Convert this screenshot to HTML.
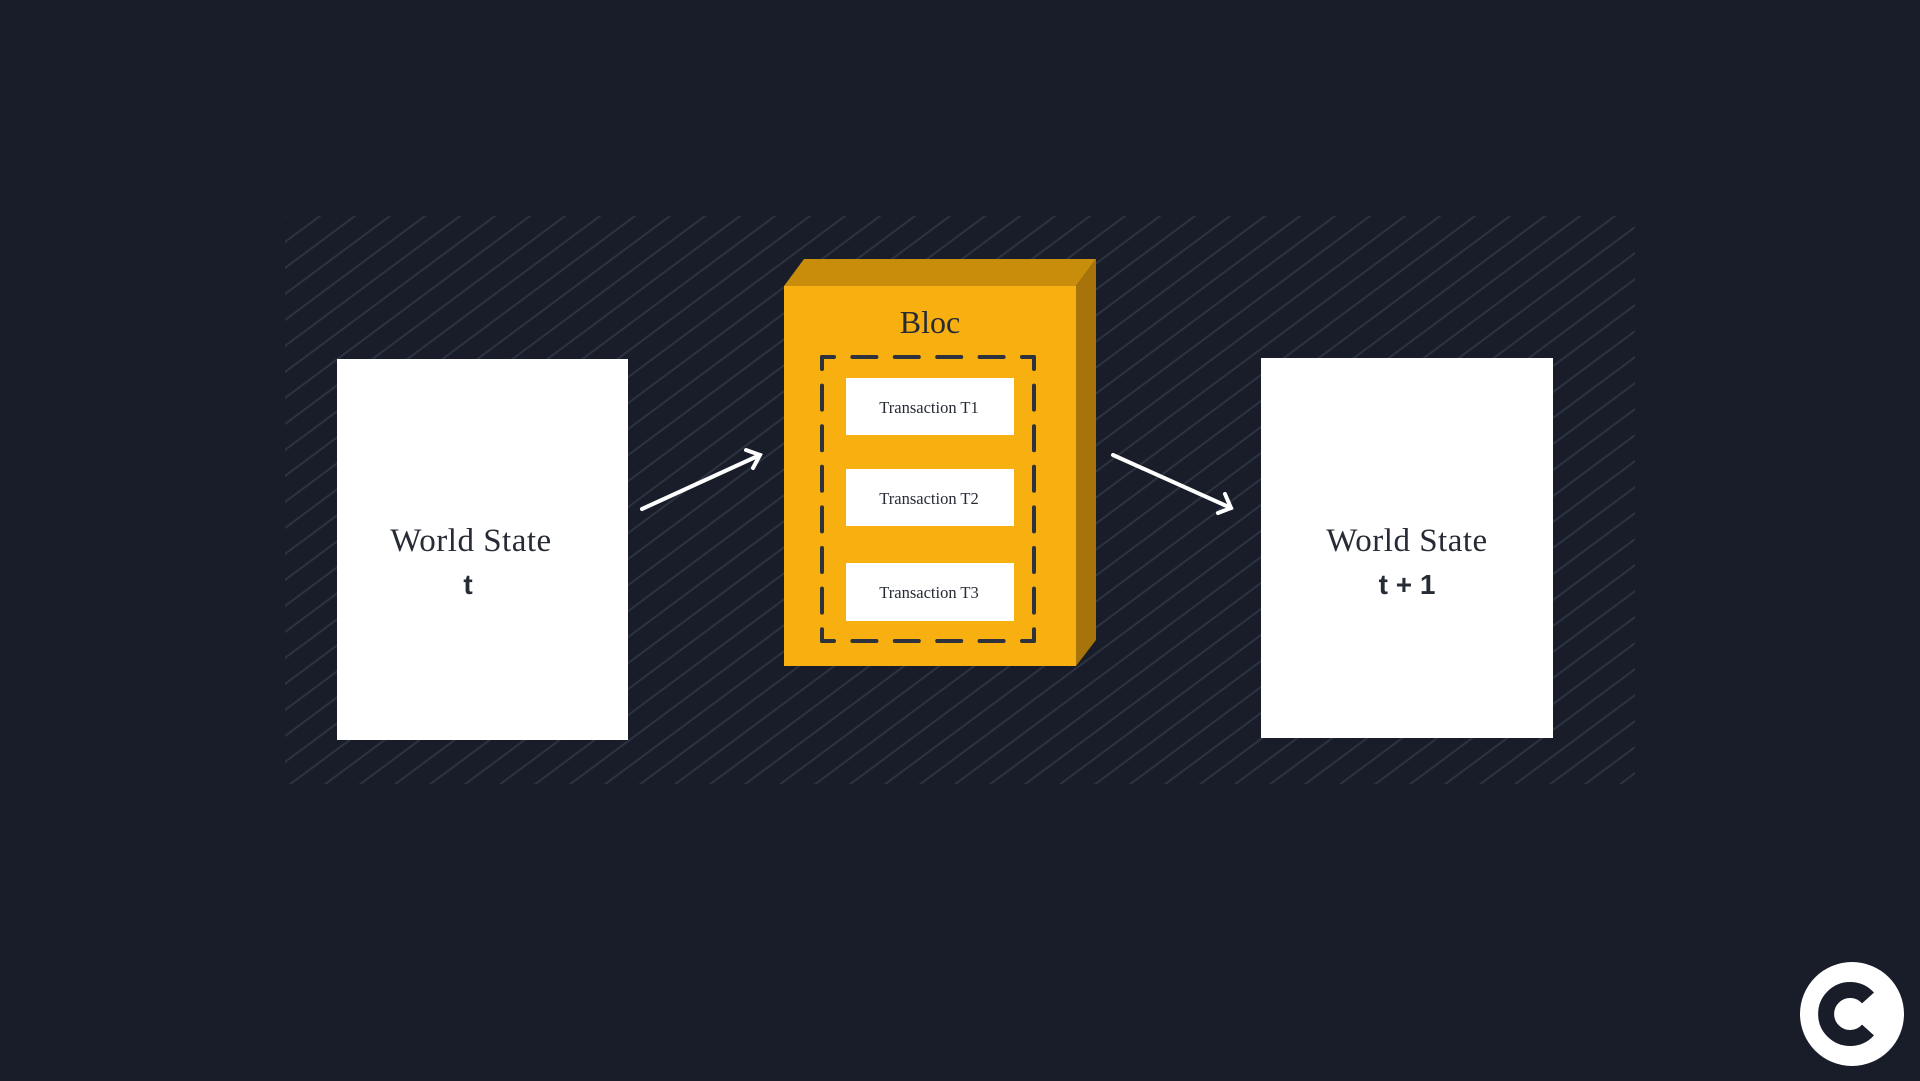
<!DOCTYPE html>
<html><head><meta charset="utf-8"><style>
html,body{margin:0;padding:0;background:#181d29;width:1920px;height:1081px;overflow:hidden}
svg{display:block}
</style></head><body>
<svg width="1920" height="1081" viewBox="0 0 1920 1081" xmlns="http://www.w3.org/2000/svg">
<defs>
<pattern id="h" patternUnits="userSpaceOnUse" x="285" y="216" width="35" height="26">
<line x1="-35" y1="52" x2="70" y2="-26" stroke="#2c3240" stroke-width="2"/>
<line x1="-70" y1="52" x2="35" y2="-26" stroke="#2c3240" stroke-width="2"/>
<line x1="0" y1="52" x2="105" y2="-26" stroke="#2c3240" stroke-width="2"/>
</pattern>
</defs>
<rect x="285" y="216" width="1350" height="568" fill="url(#h)"/>
<rect x="337" y="359" width="291" height="381" fill="#fff"/>
<rect x="1261" y="358" width="292" height="380" fill="#fff"/>
<g font-family="Liberation Serif, serif" fill="#262b35" text-anchor="middle">
<text x="471" y="551" font-size="33" letter-spacing="0.5">World State</text>
<text x="1407" y="551" font-size="33" letter-spacing="0.5">World State</text>
</g>
<g font-family="Liberation Sans, sans-serif" font-weight="bold" fill="#262b35" text-anchor="middle" font-size="28">
<text x="468" y="594">t</text>
<text x="1407" y="594">t + 1</text>
</g>
<g stroke="#fff" stroke-width="4" fill="none" stroke-linecap="round">
<line x1="642" y1="509" x2="760" y2="455"/>
<polyline points="746,450 760,455 753,468"/>
<line x1="1113" y1="455" x2="1231" y2="508"/>
<polyline points="1218,513 1231,508 1225,494"/>
</g>
<polygon points="784,286 804,259 1096,259 1076,286" fill="#c98d0c"/>
<polygon points="1076,286 1096,259 1096,640 1076,666" fill="#a6740a"/>
<rect x="784" y="286" width="292" height="380" fill="#f8af10"/>
<text x="930" y="333" font-family="Liberation Serif, serif" font-size="32" fill="#262b35" text-anchor="middle">Bloc</text>
<g fill="none" stroke="#2d323d" stroke-width="4" stroke-linecap="round">
<path d="M822,357 H1034" stroke-dasharray="12 18.4 24 18.4 24 18.4 24 18.4 24 18.4 12"/>
<path d="M822,641 H1034" stroke-dasharray="12 18.4 24 18.4 24 18.4 24 18.4 24 18.4 12"/>
<path d="M822,357 V641" stroke-dasharray="12 16.6 24 16.6 24 16.6 24 16.6 24 16.6 24 16.6 24 16.6 12"/>
<path d="M1034,357 V641" stroke-dasharray="12 16.6 24 16.6 24 16.6 24 16.6 24 16.6 24 16.6 24 16.6 12"/>
</g>
<g fill="#fff">
<rect x="846" y="378" width="168" height="57"/>
<rect x="846" y="469" width="168" height="57"/>
<rect x="846" y="563" width="168" height="58"/>
</g>
<g font-family="Liberation Serif, serif" font-size="16.5" fill="#262b35" text-anchor="middle">
<text x="929" y="413">Transaction T1</text>
<text x="929" y="504">Transaction T2</text>
<text x="929" y="598">Transaction T3</text>
</g>
<circle cx="1852" cy="1014" r="52" fill="#fff"/>
<path d="M1868,998 A24,24 0 1 0 1868,1030" fill="none" stroke="#181d29" stroke-width="16"/>
</svg>
</body></html>
